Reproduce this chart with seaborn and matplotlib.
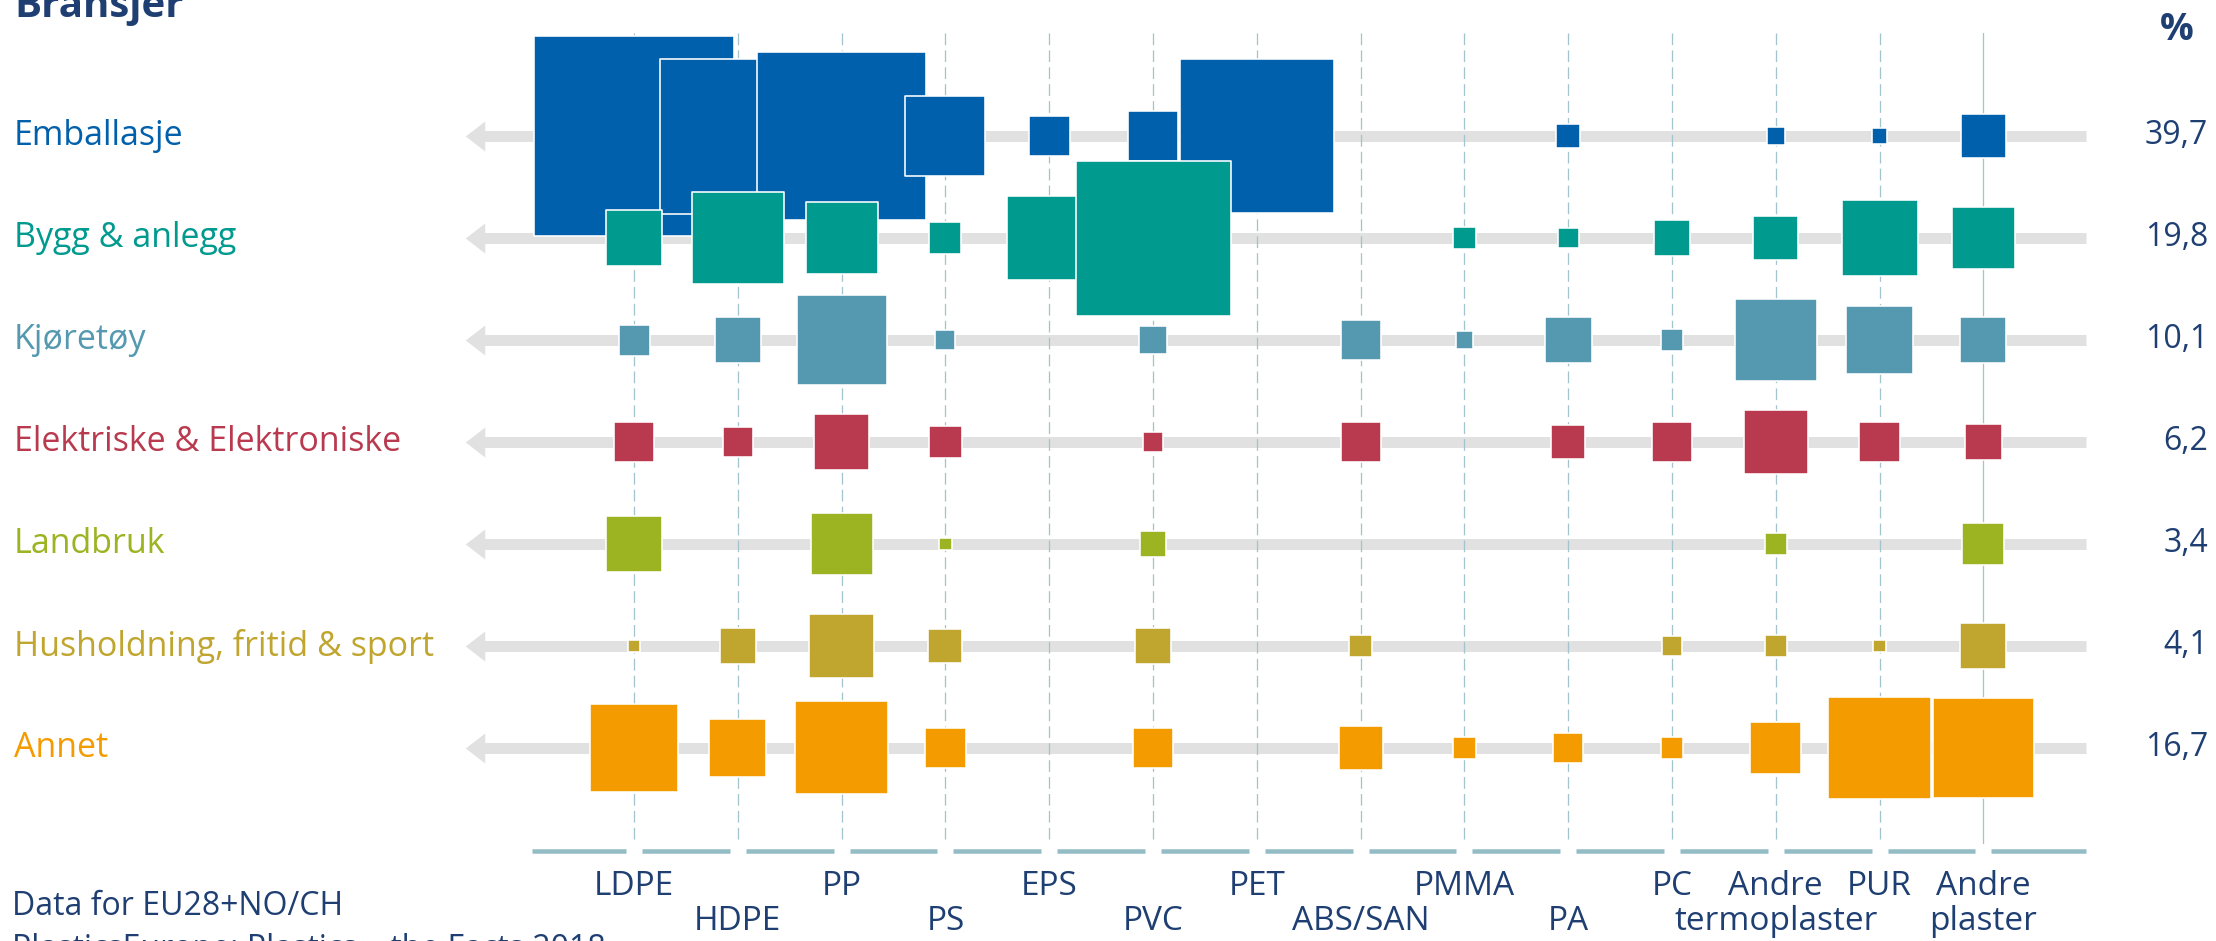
import numpy as np
import pandas as pd
import matplotlib
matplotlib.use("Agg")
import matplotlib.pyplot as plt
from matplotlib.path import Path
import seaborn as sns

# ---------------- data ----------------
sectors = ["Emballasje", "Bygg & anlegg", "Kjøretøy", "Elektriske & Elektroniske",
           "Landbruk", "Husholdning, fritid & sport", "Annet"]
sector_totals = ["39,7", "19,8", "10,1", "6,2", "3,4", "4,1", "16,7"]
sector_colors = ["#0060ab", "#009a8f", "#5499b0", "#b9394e", "#9cb322", "#c0a52f", "#f49b00"]
polymers = ["LDPE", "HDPE", "PP", "PS", "EPS", "PVC", "PET", "ABS/SAN", "PMMA", "PA",
            "PC", "Andre\ntermoplaster", "PUR", "Andre\nplaster"]

# share of total demand (%), per polymer, per sector
emballasje  = [12.90, 7.75, 9.21, 2.06, 0.54, 0.81, 7.65, 0.00, 0.00, 0.19, 0.00, 0.10, 0.08, 0.65]
bygg        = [1.01, 2.73, 1.67, 0.33, 2.33, 7.75, 0.00, 0.00, 0.16, 0.14, 0.40, 0.65, 1.86, 1.28]
kjoretoy    = [0.31, 0.68, 2.61, 0.13, 0.00, 0.27, 0.00, 0.52, 0.10, 0.71, 0.16, 2.17, 1.45, 0.68]
elektrisk   = [0.54, 0.29, 0.98, 0.35, 0.00, 0.14, 0.00, 0.52, 0.00, 0.37, 0.52, 1.32, 0.54, 0.44]
landbruk    = [0.98, 0.00, 1.24, 0.05, 0.00, 0.22, 0.00, 0.00, 0.00, 0.00, 0.00, 0.16, 0.00, 0.57]
husholdning = [0.05, 0.42, 1.36, 0.37, 0.00, 0.40, 0.00, 0.16, 0.00, 0.00, 0.12, 0.16, 0.05, 0.68]
annet       = [2.50, 1.05, 2.79, 0.54, 0.00, 0.52, 0.00, 0.62, 0.17, 0.29, 0.17, 0.84, 3.42, 3.29]

series = [emballasje, bygg, kjoretoy, elektrisk, landbruk, husholdning, annet]

rows = []
for si, vals in enumerate(series):
    for pi, v in enumerate(vals):
        if v > 0:
            rows.append({"sector": sectors[si], "row": si, "col": pi, "value": v})
df = pd.DataFrame(rows)

# ---------------- layout ----------------
W, H, DPI = 2216, 941, 100
X0, DX = 634.0, 103.8      # pixel of first column, column spacing
Y0, DY = 136.0, 102.0      # pixel of first row, row spacing
PX_PER_PCT = 3100.0        # marker area (px^2) per percentage point
NAVY = "#1f3f73"
GRID = "#a3c4cc"
AXIS = "#93bcc5"
BAR = "#e1e1e1"

def xd(px):
    return (px - X0) / DX

def yd(px):
    return (px - Y0) / DY

sns.set_theme(style="white")
plt.rcParams["font.family"] = ["Open Sans", "DejaVu Sans"]

fig = plt.figure(figsize=(W / DPI, H / DPI), dpi=DPI)
fig.patch.set_facecolor("white")
ax = fig.add_axes([0, 0, 1, 1])

pt = 72.0 / DPI
ncol = len(polymers)

# gray row bars with arrow heads
arrow_marker = Path([(-0.65, 0), (0.65, 1), (0.65, -1), (-0.65, 0)],
                    [Path.MOVETO, Path.LINETO, Path.LINETO, Path.CLOSEPOLY])
for j in range(len(sectors)):
    ax.plot([xd(476), xd(2086)], [j, j], color=BAR, lw=11 * pt,
            solid_capstyle="butt", zorder=1)
    ax.plot([xd(475)], [j], marker=arrow_marker, ms=30 * pt, color=BAR,
            mec="none", zorder=1)

# vertical column guide lines
for i in range(ncol):
    ls = "-" if i == ncol - 1 else (0, (9, 4))
    ax.plot([i, i], [yd(33), yd(843)], color=GRID, lw=1.3 * pt, ls=ls, zorder=2)

# bottom axis line, broken at each column
gap = 8.0 / DX
edges = [xd(532)] + [c for i in range(ncol) for c in (i - gap, i + gap)] + [xd(2086)]
for a, b in zip(edges[0::2], edges[1::2]):
    ax.plot([a, b], [yd(851), yd(851)], color=AXIS, lw=4.5 * pt,
            solid_capstyle="butt", zorder=2)

# squares (area proportional to value)
vmax = df["value"].max()
smax = vmax * PX_PER_PCT * pt * pt
sns.scatterplot(data=df, x="col", y="row", hue="sector", size="value",
                palette=dict(zip(sectors, sector_colors)), hue_order=sectors,
                sizes=(0, smax), size_norm=(0, vmax), marker="s",
                edgecolor="white", linewidth=1.6 * pt, legend=False,
                ax=ax, zorder=3)
ax.set_xlim(xd(0), xd(W))
ax.set_ylim(yd(H), yd(0))
ax.axis("off")

# polymer labels (alternating rows)
FS_POLY = 24
top_y, bot_y = yd(887), yd(922)
for i, lab in enumerate(polymers):
    parts = lab.split("\n")
    if len(parts) == 2:
        ax.text(i, top_y, parts[0], ha="center", va="center", fontsize=FS_POLY, color=NAVY)
        ax.text(i, bot_y, parts[1], ha="center", va="center", fontsize=FS_POLY, color=NAVY)
    else:
        ax.text(i, top_y if i % 2 == 0 else bot_y, lab, ha="center", va="center",
                fontsize=FS_POLY, color=NAVY)

# sector labels and totals
for j, (name, tot, col) in enumerate(zip(sectors, sector_totals, sector_colors)):
    ax.text(xd(14), j, name, ha="left", va="center", fontsize=24.5, color=col)
    ax.text(xd(2208), j, tot, ha="right", va="center", fontsize=23, color=NAVY)

# headers and source
ax.text(xd(14), yd(17), "Bransjer", ha="left", va="baseline", fontsize=29,
        fontweight="bold", color=NAVY)
ax.text(xd(2194), yd(30), "%", ha="right", va="center", fontsize=27,
        fontweight="bold", color=NAVY)
ax.text(xd(12), yd(915), "Data for EU28+NO/CH", ha="left", va="baseline",
        fontsize=23, color=NAVY)
ax.text(xd(12), yd(958), "PlasticsEurope: Plastics \u2013 the Facts 2018", ha="left",
        va="baseline", fontsize=23, color=NAVY)

fig.savefig("out.png", dpi=DPI, facecolor="white")
